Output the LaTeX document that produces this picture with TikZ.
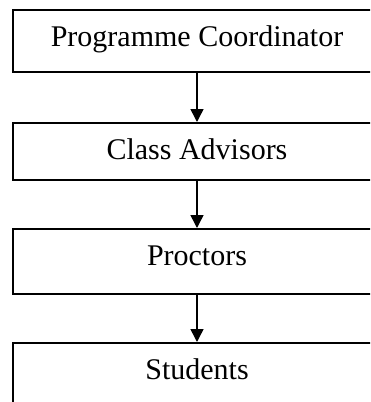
\documentclass[tikz,border=0pt]{standalone}
\usepackage{fontspec}
\setmainfont{Liberation Serif}
\usetikzlibrary{arrows.meta}

\begin{document}
\begin{tikzpicture}[x=0.5pt,y=-0.5pt,
  stage/.style={draw,rectangle,line width=0.75pt,minimum width=184pt,inner ysep=8.5pt,
    text height=10pt,anchor=north,font=\fontsize{15}{18}\selectfont},
  link/.style={line width=0.75pt,-{Triangle[length=6.5pt,width=6.5pt]}}]
\clip (0,0) rectangle (370,402);

\node[stage,text depth=4pt]   (coord)    at (197,9)   {Programme Coordinator};
\node[stage,text depth=1.5pt] (advisors) at (197,122) {Class Advisors};
\node[stage,text depth=5.5pt] (proctors) at (197,228) {Proctors};
\node[stage,text depth=5pt]   (students) at (197,342) {Students};

\draw[link] (coord) -- (advisors);
\draw[link] (advisors) -- (proctors);
\draw[link] (proctors) -- (students);
\end{tikzpicture}
\end{document}
